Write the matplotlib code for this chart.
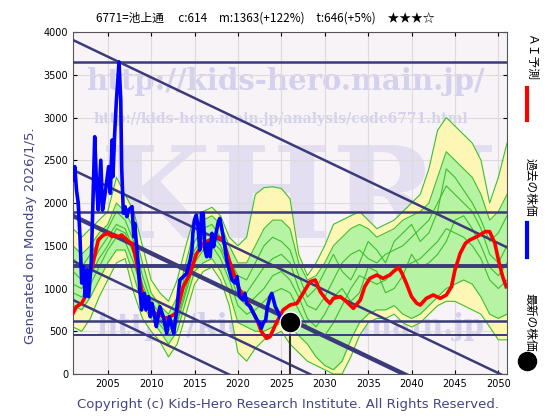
import matplotlib
matplotlib.use("Agg")
import matplotlib.pyplot as plt
import numpy as np

plt.rcParams['font.family'] = ['DejaVu Sans', 'Noto Sans CJK JP']

# ---------------- data ----------------
past_years = [2001.0, 2001.2, 2001.4, 2001.6, 2001.8, 2002.0, 2002.2, 2002.4, 2002.6, 2002.8,
              2003.1, 2003.3, 2003.5, 2003.7, 2003.9, 2004.2, 2004.4, 2004.7, 2005.1, 2005.3,
              2005.5, 2005.6, 2005.8, 2006.0, 2006.3, 2006.5, 2006.6, 2006.8, 2007.0, 2007.2,
              2007.4, 2007.8, 2008.0, 2008.1, 2008.3, 2008.5, 2008.7, 2008.9, 2009.2, 2009.4,
              2009.7, 2009.9, 2010.1, 2010.4, 2010.6, 2011.0, 2011.4, 2011.8, 2012.1, 2012.4,
              2012.6, 2012.9, 2013.1, 2013.3, 2013.7, 2014.1, 2014.3, 2014.5, 2014.7, 2014.8,
              2015.0, 2015.2, 2015.4, 2015.6, 2015.8, 2016.0, 2016.2, 2016.4, 2016.6, 2016.8,
              2017.0, 2017.2, 2017.4, 2017.7, 2017.9, 2018.1, 2018.3, 2018.5, 2018.7, 2018.9,
              2019.3, 2019.7, 2019.9, 2020.1, 2020.2, 2020.6, 2020.8, 2021.0, 2021.4, 2021.8,
              2022.2, 2022.5, 2022.7, 2022.9, 2023.2, 2023.4, 2023.7, 2023.9, 2024.1, 2024.3,
              2024.7, 2024.9]
past_price = [2270, 2425, 2150, 2000, 1606, 1064, 1255, 905, 1216, 905,
              1298, 2035, 2775, 2230, 1918, 2500, 1918, 2113, 2425, 2113,
              2737, 2308, 2815, 3205, 3650, 3205, 2425, 1880, 1957, 1840,
              1918, 1957, 1606, 1762, 1528, 1294, 982, 749, 943, 749,
              905, 671, 827, 671, 554, 788, 671, 476, 671, 554,
              476, 710, 905, 1100, 1138, 1177, 1255, 1333, 1450, 1645,
              1801, 1860, 1723, 1450, 1879, 1879, 1450, 1372, 1528, 1372,
              1645, 1489, 1606, 1762, 1820, 1723, 1606, 1489, 1333, 1255,
              1100, 1064, 1138, 982, 905, 866, 943, 827, 788, 710,
              632, 593, 535, 593, 632, 788, 905, 943, 866, 788,
              710, 650]

ai_years = [2001.0, 2001.4, 2002.0, 2002.4, 2002.8, 2003.3, 2003.9, 2004.5, 2005.1, 2005.5,
            2005.8, 2006.2, 2006.6, 2007.0, 2007.4, 2007.8, 2008.1, 2008.5, 2008.9, 2009.3,
            2009.9, 2010.4, 2011.0, 2011.6, 2012.2, 2012.9, 2013.7, 2014.5, 2015.2, 2016.0,
            2016.8, 2017.6, 2018.3, 2019.1, 2020.2, 2021.4, 2022.2, 2022.7, 2023.3, 2023.7,
            2024.4, 2025.2, 2026.0, 2026.8, 2027.5, 2028.3, 2028.9, 2029.5, 2030.2, 2030.6,
            2031.0, 2031.8, 2032.5, 2033.3, 2034.1, 2034.6, 2035.2, 2036.0, 2036.7, 2037.5,
            2037.9, 2038.5, 2038.9, 2039.4, 2040.0, 2040.6, 2041.0, 2041.7, 2042.5, 2043.3,
            2044.0, 2044.6, 2045.0, 2045.6, 2046.2, 2046.7, 2047.5, 2048.5, 2049.0, 2049.6,
            2050.1, 2050.5, 2050.9]
ai_price = [710, 788, 827, 905, 1138, 1294, 1567, 1626, 1645, 1606,
            1626, 1606, 1626, 1587, 1548, 1528, 1411, 1216, 982, 827,
            768, 710, 700, 650, 671, 710, 1021, 1177, 1400, 1528,
            1570, 1606, 1567, 1294, 982, 788, 632, 495, 417, 437,
            593, 749, 807, 827, 944, 1080, 1100, 960, 866, 827,
            885, 905, 846, 768, 866, 1021, 1119, 1158, 1119, 1158,
            1197, 1248, 1177, 1060, 905, 827, 807, 885, 924, 885,
            924, 1021, 1216, 1411, 1528, 1567, 1606, 1665, 1665, 1528,
            1294, 1138, 1021]

band_years = list(range(2001, 2052))
band_y_hi = [1700, 1600, 1700, 1800, 1900, 2300, 2100, 1900, 1500, 1100,
             950, 850, 1100, 1500, 1850, 1900, 1950, 1850, 1600, 1500,
             1600, 2100, 2180, 2190, 2170, 2050, 1400, 1150, 1300, 1500,
             1750, 1800, 1850, 1900, 1800, 1700, 1750, 1800, 1900, 2000,
             2100, 2400, 2850, 3000, 2900, 2800, 2700, 2500, 2000, 2300, 2700]
band_g_hi = [1500, 1400, 1500, 1650, 1750, 2000, 1900, 1700, 1300, 950,
             800, 700, 900, 1300, 1700, 1800, 1850, 1750, 1500, 1300,
             1300, 1500, 1700, 1800, 1800, 1700, 1300, 1100, 1150, 1300,
             1500, 1600, 1700, 1750, 1700, 1600, 1650, 1700, 1800, 1850,
             1900, 2000, 2300, 2600, 2500, 2400, 2300, 2100, 1800, 1900, 2100]
band_g_lo = [800, 750, 900, 1100, 1300, 1450, 1450, 1150, 800, 650,
             500, 350, 500, 850, 1200, 1300, 1350, 1200, 950, 600,
             550, 500, 500, 550, 600, 550, 450, 350, 200, 100,
             50, 150, 400, 600, 700, 750, 750, 800, 700, 650,
             700, 800, 900, 1000, 1050, 1100, 1050, 900, 700, 650, 700]
band_y_lo = [550, 500, 650, 900, 1100, 1300, 1350, 950, 650, 500,
             380, 200, 350, 700, 1050, 1200, 1250, 1100, 800, 250,
             150, 300, 400, 450, 500, 350, 250, 150, 100, 50,
             0, 0, 200, 450, 600, 650, 650, 700, 600, 550,
             600, 700, 800, 850, 850, 800, 750, 700, 550, 400, 400]
band_m1 = [1200, 1100, 1250, 1450, 1600, 1750, 1700, 1450, 1050, 800,
           650, 550, 700, 1100, 1450, 1600, 1650, 1500, 1250, 1000,
           950, 1100, 1250, 1350, 1400, 1300, 1000, 800, 750, 900,
           1100, 1300, 1400, 1450, 1350, 1300, 1400, 1450, 1500, 1600,
           1700, 1800, 2000, 2200, 2100, 2000, 1900, 1700, 1400, 1300, 1500]
band_m2 = [950, 900, 1050, 1250, 1450, 1600, 1550, 1300, 950, 700,
           580, 450, 600, 950, 1300, 1450, 1500, 1350, 1100, 800,
           700, 750, 850, 950, 1000, 950, 750, 550, 450, 450,
           600, 800, 1000, 1150, 1100, 1050, 1100, 1200, 1250, 1300,
           1350, 1450, 1550, 1700, 1650, 1600, 1500, 1350, 1100, 1000, 1100]
band_m3 = [1350, 1250, 1400, 1550, 1700, 1900, 1800, 1550, 1150, 850,
           700, 600, 800, 1200, 1550, 1700, 1750, 1600, 1350, 1150,
           1100, 1300, 1500, 1600, 1550, 1450, 1150, 900, 1000, 1200,
           1400, 1200, 1100, 1300, 1550, 1450, 1300, 1550, 1650, 1750,
           1550, 1650, 1900, 2400, 2300, 2150, 2000, 1800, 1550, 1650, 1850]
band_m4 = [1050, 1000, 1150, 1350, 1500, 1700, 1650, 1400, 1000, 750,
           620, 500, 650, 1000, 1400, 1500, 1550, 1450, 1200, 900,
           800, 900, 1000, 1150, 1200, 1100, 900, 650, 550, 700,
           900, 1000, 850, 950, 1250, 1200, 950, 1000, 1150, 1400,
           1250, 1300, 1400, 1550, 1800, 1850, 1700, 1500, 1250, 1150, 1300]

trend_start_year = 2001
trend_start_vals = [3906, 2387, 1849, 1322, 866]
trend_widths = [1.8, 1.8, 3.2, 1.8, 1.8]
trend_slope = -48.5
levels = [3650, 1900, 1265, 620, 455]
level_widths = [1.8, 1.8, 2.8, 1.8, 1.4]

latest_year = 2026.0
latest_price = 614

title = "6771=池上通　 c:614　m:1363(+122%)　t:646(+5%)　★★★☆"

# ---------------- figure ----------------
fig = plt.figure(figsize=(5.6, 4.2), dpi=100)
ax = fig.add_axes([0.1304, 0.1095, 0.775, 0.8143])
ax.set_facecolor('#f8f3f7')
ax.set_xlim(2001, 2051)
ax.set_ylim(0, 4000)

ax.set_xticks(range(2005, 2051, 5))
ax.set_yticks(range(0, 4001, 500))
ax.grid(True, color='#dcdcdc', lw=0.8, zorder=0)
ax.tick_params(labelsize=7, length=3, direction='in', top=True, right=True)
for s in ax.spines.values():
    s.set_color('#555555')
    s.set_linewidth(0.8)

# watermarks
wm = '#d3d1ee'
ax.text(0.49, 0.855, "http://kids-hero.main.jp/", transform=ax.transAxes, ha='center', va='center',
        fontsize=21, family='DejaVu Serif', weight='bold', color=wm, zorder=1)
ax.text(0.48, 0.745, "http://kids-hero.main.jp/analysis/code6771.html", transform=ax.transAxes,
        ha='center', va='center', fontsize=10, family='DejaVu Serif', weight='bold', color=wm, zorder=1)
ax.text(0.52, 0.5, "KHRI", transform=ax.transAxes, ha='center', va='center',
        fontsize=92, family='DejaVu Serif', weight='bold', color='#e3def0', zorder=1)
ax.text(0.50, 0.14, "http://kids-hero.main.jp", transform=ax.transAxes, ha='center', va='center',
        fontsize=21, family='DejaVu Serif', weight='bold', color=wm, zorder=1)

# bands
by = np.array(band_years, dtype=float)
ax.fill_between(by, band_y_lo, band_y_hi, color='#fdf6b4', zorder=2, lw=0)
ax.fill_between(by, band_g_lo, band_g_hi, color='#b6f3a2', zorder=2.1, lw=0)
for arr in (band_y_hi, band_g_hi, band_m3, band_m1, band_m4, band_m2, band_g_lo, band_y_lo):
    ax.plot(by, arr, color='#3cc02c', lw=0.8, zorder=2.5)

# horizontal levels
for lv, w in zip(levels, level_widths):
    ax.axhline(lv, color='#3b3b7b', lw=w, zorder=3)

# trend lines
tx = np.array([2001.0, 2051.0])
for v0, w in zip(trend_start_vals, trend_widths):
    ax.plot(tx, v0 + trend_slope * (tx - trend_start_year), color='#3b3b7b', lw=w, zorder=3)

# AI prediction and past price
ax.plot(ai_years, ai_price, color='#ff0000', lw=2.6, zorder=4)
ax.plot(past_years, past_price, color='#0000ff', lw=2.6, zorder=5)

# latest price marker
ax.plot([latest_year, latest_year], [0, latest_price], color='#333333', lw=1.5, zorder=5)
ax.plot([latest_year], [latest_price], 'o', color='black', markersize=15,
        markeredgecolor='white', markeredgewidth=1, zorder=6)

jp = ['Noto Sans CJK JP', 'DejaVu Sans']
# title
fig.text(0.473, 0.957, title, ha='center', va='center', fontsize=8.5, family=jp)

# left label
fig.text(0.054, 0.44, "Generated on Monday 2026/1/5.", rotation=90, ha='center', va='center',
         fontsize=9.5, color='#444488')

# copyright
fig.text(0.515, 0.038, "Copyright (c) Kids-Hero Research Institute. All Rights Reserved.",
         ha='center', va='center', fontsize=9.5, color='#444488')

# right legend
fig.text(0.947, 0.862, "ＡＩ予測", rotation=-90, ha='center', va='center', fontsize=8.5, family=jp)
fig.add_artist(plt.Line2D([0.941, 0.941], [0.714, 0.79], color='#ff0000', lw=3, transform=fig.transFigure))
fig.text(0.947, 0.555, "過去の株価", rotation=-90, ha='center', va='center', fontsize=8.5, family=jp)
fig.add_artist(plt.Line2D([0.941, 0.941], [0.388, 0.468], color='#0000ff', lw=3, transform=fig.transFigure))
fig.text(0.947, 0.233, "最新の株価", rotation=-90, ha='center', va='center', fontsize=8.5, family=jp)
fig.add_artist(plt.Line2D([0.941], [0.14], marker='o', color='black', markersize=13,
                          transform=fig.transFigure))

fig.savefig('out.png', dpi=100)
